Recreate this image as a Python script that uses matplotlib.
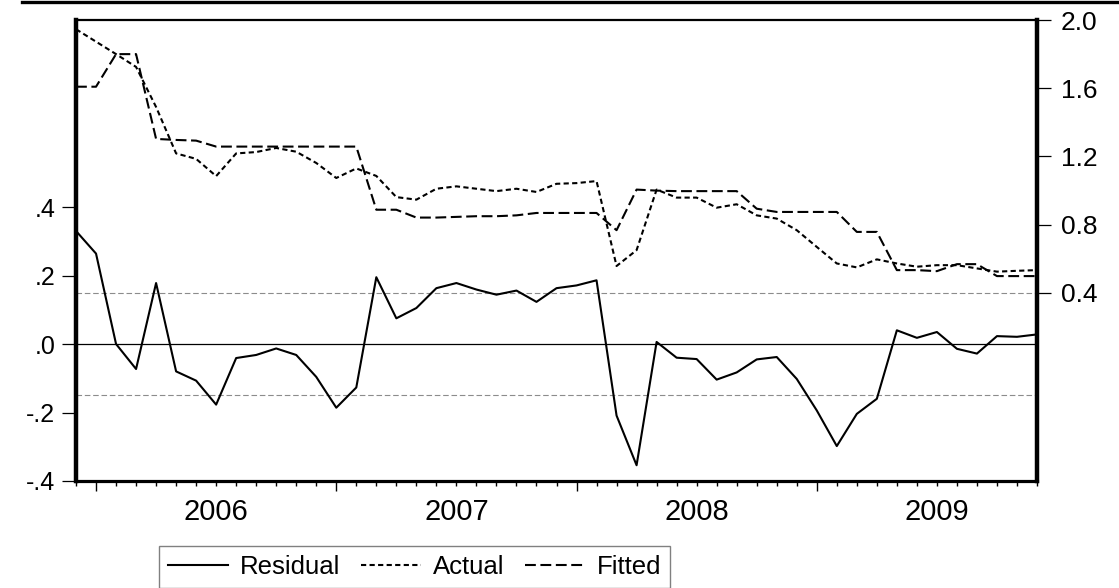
import numpy as np
import matplotlib.pyplot as plt
from matplotlib.lines import Line2D

plt.rcParams['font.family'] = ['Liberation Sans', 'DejaVu Sans']

# Monthly observations, Dec 2005 .. Dec 2009
residual = [0.33, 0.264, 0.0, -0.073, 0.178, -0.08, -0.107, -0.177, -0.041, -0.032,
            -0.013, -0.032, -0.096, -0.186, -0.127, 0.195, 0.075, 0.105, 0.163, 0.178,
            0.159, 0.144, 0.156, 0.123, 0.163, 0.171, 0.186, -0.209, -0.354, 0.006,
            -0.040, -0.044, -0.104, -0.083, -0.045, -0.038, -0.102, -0.194, -0.298, -0.204,
            -0.160, 0.040, 0.018, 0.035, -0.014, -0.028, 0.023, 0.021, 0.028]
actual = [1.946, 1.873, 1.80, 1.725, 1.49, 1.218, 1.186, 1.085, 1.218, 1.226,
          1.25, 1.228, 1.162, 1.074, 1.13, 1.086, 0.962, 0.947, 1.011, 1.025,
          1.011, 0.997, 1.011, 0.992, 1.040, 1.044, 1.056, 0.558, 0.651, 1.006,
          0.959, 0.959, 0.900, 0.920, 0.855, 0.836, 0.768, 0.670, 0.573, 0.550,
          0.597, 0.573, 0.554, 0.563, 0.563, 0.544, 0.525, 0.530, 0.534]
fitted = [1.609, 1.609, 1.80, 1.80, 1.303, 1.297, 1.293, 1.258, 1.258, 1.258,
          1.258, 1.258, 1.258, 1.258, 1.258, 0.888, 0.888, 0.842, 0.842, 0.846,
          0.850, 0.850, 0.855, 0.869, 0.869, 0.869, 0.869, 0.768, 1.006, 1.0,
          0.997, 0.997, 0.997, 0.997, 0.894, 0.875, 0.875, 0.875, 0.875, 0.758,
          0.758, 0.534, 0.534, 0.528, 0.569, 0.569, 0.499, 0.499, 0.499]

years = ['2006', '2007', '2008', '2009']
year_start = [1, 13, 25, 37]   # index of January in each year
se_band = 0.15

x = np.arange(len(residual))

fig = plt.figure(figsize=(11.19, 5.88), dpi=100)
ax = fig.add_axes([76 / 1119, 1 - 481 / 588, 961 / 1119, 461 / 588])
ax2 = ax.twinx()

# reference lines for the residual
ax.axhline(0, color='black', lw=0.9, zorder=1)
for v in (se_band, -se_band):
    ax.axhline(v, color='#8c8c8c', lw=0.8, ls=(0, (5, 2.5)), zorder=1)

l_res, = ax.plot(x, residual, color='black', lw=1.5, zorder=3)
l_act, = ax2.plot(x, actual, color='black', lw=1.5, dashes=(2.5, 1.6))
l_fit, = ax2.plot(x, fitted, color='black', lw=1.5, dashes=(5.2, 2.2))

ax.set_xlim(0, len(x) - 1)
ax.set_ylim(-0.4, 0.946)
ax2.set_ylim(-0.702, 2.0)

ax.set_yticks([-0.4, -0.2, 0.0, 0.2, 0.4])
ax.set_yticklabels(['-.4', '-.2', '.0', '.2', '.4'])
ax2.set_yticks([0.4, 0.8, 1.2, 1.6, 2.0])
ax2.set_yticklabels(['0.4', '0.8', '1.2', '1.6', '2.0'])

ax.tick_params(axis='y', direction='out', length=10, width=0.9, pad=5, labelsize=18)
ax2.tick_params(axis='y', direction='out', length=10, width=0.9, pad=7, labelsize=19)

# month ticks short, January ticks long, year labels between them
ax.set_xticks(year_start)
ax.set_xticklabels([])
ax.set_xticks([i for i in x if i not in year_start], minor=True)
ax.tick_params(axis='x', which='major', direction='out', length=7, width=1.0)
ax.tick_params(axis='x', which='minor', direction='out', length=3.5, width=1.0)
for yr, s in zip(years, year_start):
    ax.text(s + 6, -0.036, yr, transform=ax.get_xaxis_transform(),
            ha='center', va='top', fontsize=21)

for side, lw in (('left', 3.2), ('right', 3.2), ('bottom', 2.3), ('top', 1.6)):
    ax.spines[side].set_linewidth(lw)
for s in ax2.spines.values():
    s.set_visible(False)

# frame edge at the top of the figure
fig.add_artist(Line2D([22 / 1119, 1], [1 - 1.5 / 588] * 2, transform=fig.transFigure,
                      color='black', lw=2.4))

fig.legend([l_res, l_act, l_fit], ['Residual', 'Actual', 'Fitted'],
           loc='upper left', bbox_to_anchor=(159 / 1119, 1 - 546 / 588), ncol=3,
           fancybox=False, edgecolor='#808080', framealpha=1, fontsize=18.5,
           handlelength=2.35, handletextpad=0.45, columnspacing=0.8,
           borderaxespad=0, borderpad=0.35)

fig.savefig('out.png', dpi=100)
